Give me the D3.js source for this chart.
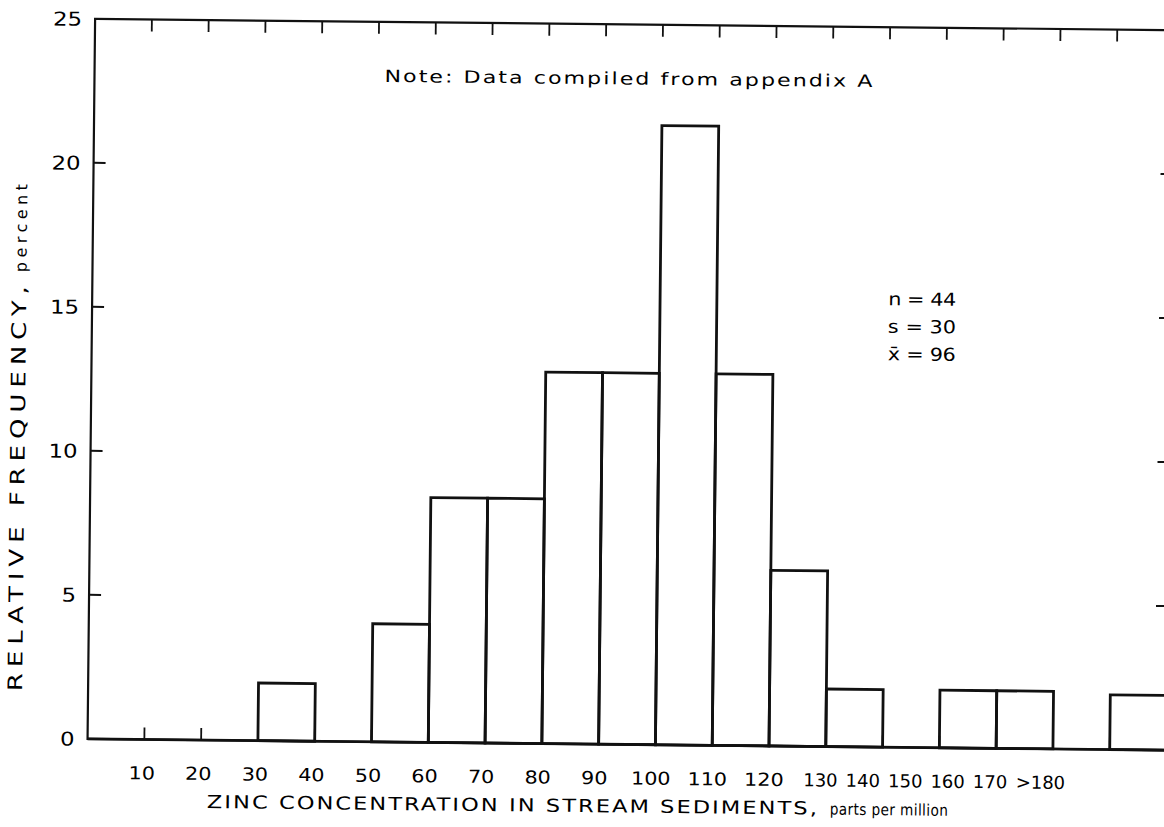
<!DOCTYPE html>
<html>
<head>
<meta charset="utf-8">
<script src="https://cdn.jsdelivr.net/npm/d3@7"></script>
<style>
  html, body { margin: 0; padding: 0; background: #fff; }
  svg { display: block; }
  text { font-family: "DejaVu Sans", "Liberation Sans", sans-serif; fill: #000; }
</style>
</head>
<body>
<svg id="chart" width="1164" height="827"></svg>
<script>
// ---- data ----
const binStarts = [0, 10, 20, 30, 40, 50, 60, 70, 80, 90, 100, 110, 120, 130, 140, 150, 160, 170, 180];
const frequency = [0, 0, 0, 2.0, 0, 4.1, 8.5, 8.5, 12.9, 12.9, 21.5, 12.9, 6.1, 2.0, 0, 2.0, 2.0, 0, 1.9];
const xTickValues = [10, 20, 30, 40, 50, 60, 70, 80, 90, 100, 110, 120, 130, 140, 150, 160, 170, 180];
const xTickLabels = ["10", "20", "30", "40", "50", "60", "70", "80", "90", "100", "110", "120", "130", "140", "150", "160", "170", ">180"];
const yTickValues = [0, 5, 10, 15, 20, 25];
const statsLines = ["n = 44", "s = 30", "x\u0304 = 96"];
const noteText = "Note: Data compiled from appendix A";
const xTitleCaps = "ZINC CONCENTRATION IN STREAM SEDIMENTS,";
const xTitleLower = "parts per million";
const yTitleCaps = "RELATIVE FREQUENCY,";
const yTitleLower = "percent";

// ---- layout ----
const W = 1164, H = 827;
const mLeft = 91, mRight = 1170, mTop = 24, mBottom = 744;
const binWidth = 10;

const x = d3.scaleLinear().domain([0, 190]).range([mLeft, mRight]);
const y = d3.scaleLinear().domain([0, 25]).range([mBottom, mTop]);

// hand-lettered labels drift left after 130
const labelX = d3.scaleLinear().domain([0, 130, 180]).range([x(0) - 2, x(130) - 5, x(130) - 5 + 212]);

const svg = d3.select("#chart");
svg.append("rect").attr("width", W).attr("height", H).attr("fill", "#fff");

// scanned page is slightly rotated
const g = svg.append("g").attr("transform", "rotate(0.6, 582, 413)");

// wide (lettering-guide style) text helper
function wideText(parent, str, opt) {
  const sx = opt.sx || 1.2;
  const gg = parent.append("g")
    .attr("transform", `translate(${opt.x},${opt.y})${opt.rot ? ` rotate(${opt.rot})` : ""} scale(${sx},1)`);
  const t = gg.append("text")
    .attr("x", 0).attr("y", 0)
    .attr("font-size", opt.size)
    .attr("text-anchor", opt.anchor || "start")
    .text(str);
  if (opt.len) t.attr("textLength", opt.len / sx).attr("lengthAdjust", opt.adjust || "spacing");
  if (opt.ls) t.attr("letter-spacing", opt.ls);
  return t;
}

// frame
g.append("rect")
  .attr("x", x(0)).attr("y", y(25))
  .attr("width", x(190) - x(0)).attr("height", y(0) - y(25))
  .attr("fill", "none").attr("stroke", "#111").attr("stroke-width", 2.2);

// inward ticks: left, right, top, bottom
const tl = 12;
const innerY = yTickValues.filter(v => v > 0 && v < 25);
g.append("g").selectAll("line").data(innerY).join("line")
  .attr("x1", x(0)).attr("x2", x(0) + tl)
  .attr("y1", d => y(d)).attr("y2", d => y(d))
  .attr("stroke", "#111").attr("stroke-width", 2);
g.append("g").selectAll("line").data(innerY).join("line")
  .attr("x1", x(190)).attr("x2", x(190) - tl)
  .attr("y1", d => y(d)).attr("y2", d => y(d))
  .attr("stroke", "#111").attr("stroke-width", 2);
g.append("g").selectAll("line").data(xTickValues).join("line")
  .attr("x1", d => x(d)).attr("x2", d => x(d))
  .attr("y1", y(25)).attr("y2", y(25) + tl)
  .attr("stroke", "#111").attr("stroke-width", 1.8);
g.append("g").selectAll("line").data(xTickValues).join("line")
  .attr("x1", d => x(d)).attr("x2", d => x(d))
  .attr("y1", y(0)).attr("y2", y(0) - tl)
  .attr("stroke", "#111").attr("stroke-width", 1.8);

// bars
const bars = binStarts.map((b, i) => ({ b, f: frequency[i] })).filter(d => d.f > 0);
g.append("g").selectAll("rect").data(bars).join("rect")
  .attr("x", d => x(d.b)).attr("y", d => y(d.f))
  .attr("width", d => x(d.b + binWidth) - x(d.b))
  .attr("height", d => y(0) - y(d.f))
  .attr("fill", "none").attr("stroke", "#111").attr("stroke-width", 2.8);

// baseline re-drawn thicker
g.append("line").attr("x1", x(0)).attr("x2", x(190)).attr("y1", y(0)).attr("y2", y(0))
  .attr("stroke", "#111").attr("stroke-width", 2.6);

// y tick labels
yTickValues.forEach(v => {
  wideText(g, String(v), { x: x(0) - 13, y: y(v) + 7, size: 19, sx: 1.2, anchor: "end" });
});

// x tick labels
xTickValues.forEach((v, i) => {
  wideText(g, xTickLabels[i], {
    x: labelX(v) + (v === 180 ? 8 : 0), y: y(0) + 40,
    size: 18, sx: v >= 130 ? 1.0 : 1.15, anchor: "middle"
  });
});

// x axis title
wideText(g, xTitleCaps, { x: 211, y: 812, size: 18, sx: 1.25, len: 610 });
wideText(g, xTitleLower, { x: 834, y: 812, size: 16, sx: 0.85, len: 118 });

// y axis title (rotated)
wideText(g, yTitleCaps, { x: 25, y: 697, rot: -90, size: 20, sx: 1.3, len: 405 });
wideText(g, yTitleLower, { x: 25, y: 278, rot: -90, size: 16, sx: 1.0, len: 88 });

// note
wideText(g, noteText, { x: 381, y: 84, size: 17, sx: 1.3, len: 488 });

// stats
statsLines.forEach((s, i) => {
  wideText(g, s, { x: 887, y: 302 + i * 27.5, size: 18, sx: 1.15, len: 68 });
});
</script>
</body>
</html>
